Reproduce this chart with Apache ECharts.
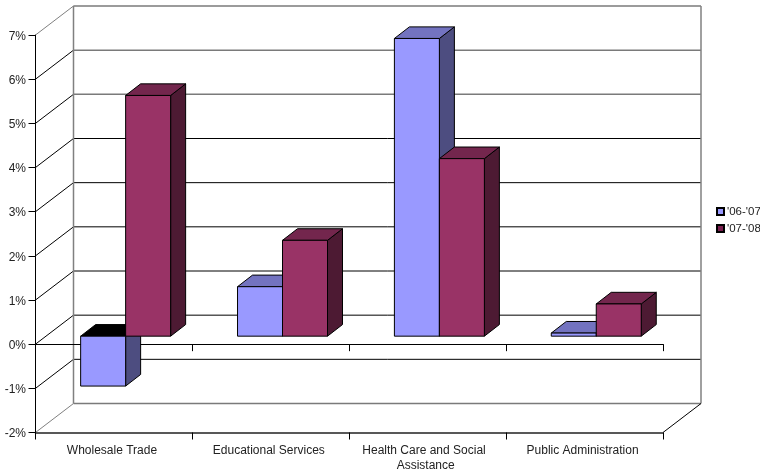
<!DOCTYPE html>
<html>
<head>
<meta charset="utf-8">
<style>html,body{margin:0;padding:0;background:#fff}#c{width:760px;height:469px}</style>
<script src="https://cdn.jsdelivr.net/npm/echarts@6/dist/echarts.min.js"></script>
</head>
<body>
<div id="c"></div>
<script>
var categories = ['Wholesale Trade', 'Educational Services', 'Health Care and Social Assistance', 'Public Administration'];
var seriesNames = ["'06-'07", "'07-'08"];
var values0607 = [-1.13, 1.12, 6.74, 0.07];
var values0708 = [5.45, 2.17, 4.02, 0.73];
var yTicks = [-2, -1, 0, 1, 2, 3, 4, 5, 6, 7];

var WALL_DX = 38, WALL_DY = -29;
var BAR_DX0 = 11.7, BAR_DY0 = -8;
var BAR_DX = 15, BAR_DY = -11.6;
var BAR_WIDTH_RATIO = 45 / 156.9;

function barRenderer(slot, front, side, top) {
  return function (params, api) {
    var i = api.value(0), v = api.value(1);
    var band = api.size([1, 0])[0];
    var w = band * BAR_WIDTH_RATIO;
    var c0 = api.coord([i, 0]), c1 = api.coord([i, v]);
    var x0 = c0[0] + BAR_DX0 + (slot - 1) * w, x1 = x0 + w;
    var yBase = c0[1] + BAR_DY0, yVal = c1[1] + BAR_DY0;
    var yT = Math.min(yBase, yVal), yB = Math.max(yBase, yVal);
    var stroke = { stroke: '#000', lineWidth: 1, lineJoin: 'miter' };
    function poly(pts, fill) {
      return { type: 'polygon', shape: { points: pts }, style: Object.assign({ fill: fill }, stroke) };
    }
    return {
      type: 'group',
      children: [
        poly([[x1, yT], [x1 + BAR_DX, yT + BAR_DY], [x1 + BAR_DX, yB + BAR_DY], [x1, yB]], side),
        poly([[x0, yT], [x0 + BAR_DX, yT + BAR_DY], [x1 + BAR_DX, yT + BAR_DY], [x1, yT]], v < 0 ? '#000' : top),
        poly([[x0, yT], [x1, yT], [x1, yB], [x0, yB]], front)
      ]
    };
  };
}

function wallRenderer(params, api) {
  var t = api.value(1);
  var band = api.size([1, 0])[0];
  var p = api.coord([0, t]);
  var left = p[0] - band / 2;
  var right = left + band * categories.length;
  var y = p[1];
  var edge = t === yTicks[0] || t === yTicks[yTicks.length - 1];
  var soft = edge || t >= 5;
  return {
    type: 'group',
    children: [
      { type: 'polyline', shape: { points: [[left, y], [left + WALL_DX, y + WALL_DY]] },
        style: { fill: null, stroke: edge ? '#808080' : '#000', lineWidth: 1 } },
      { type: 'polyline', shape: { points: [[left + WALL_DX, y + WALL_DY], [right + WALL_DX, y + WALL_DY]] },
        style: { fill: null, stroke: soft ? '#7a7a7a' : '#000', lineWidth: soft ? 1.5 : 1 } }
    ]
  };
}

function frameRenderer(params, api) {
  var band = api.size([1, 0])[0];
  var lo = api.coord([0, yTicks[0]]);
  var hi = api.coord([0, yTicks[yTicks.length - 1]]);
  var left = lo[0] - band / 2;
  var right = left + band * categories.length;
  function line(pts, color, width) {
    return { type: 'polyline', shape: { points: pts }, style: { fill: null, stroke: color, lineWidth: width } };
  }
  return {
    type: 'group',
    children: [
      line([[left + WALL_DX, hi[1] + WALL_DY], [left + WALL_DX, lo[1] + WALL_DY]], '#808080', 1.5),
      line([[right + WALL_DX, hi[1] + WALL_DY], [right + WALL_DX, lo[1] + WALL_DY]], '#808080', 1.5),
      line([[right, lo[1]], [right + WALL_DX, lo[1] + WALL_DY]], '#000', 1)
    ]
  };
}

var chart = echarts.init(document.getElementById('c'), null, { renderer: 'canvas' });
var labelFont = { fontFamily: 'Liberation Sans', fontSize: 12, color: '#222' };
chart.setOption({
  animation: false,
  backgroundColor: '#fff',
  grid: { left: 35.5, right: 97, top: 35, bottom: 36.5, containLabel: false, outerBoundsMode: 'none' },
  legend: {
    orient: 'vertical', left: 711, top: 200.5, itemWidth: 7, itemHeight: 7, itemGap: 5,
    icon: 'rect', selectedMode: false,
    textStyle: Object.assign({ padding: [0, 0, 0, -2] }, labelFont, { fontSize: 11.5 }),
    data: seriesNames
  },
  xAxis: [
    {
      type: 'category', data: categories, position: 'bottom', z: 1,
      axisLine: { onZero: false, lineStyle: { color: '#222', width: 1.5 } },
      axisTick: { show: true, interval: 0, length: 7, lineStyle: { color: '#000' } },
      axisLabel: Object.assign({ interval: 0, margin: 10.5, width: 145, overflow: 'break', lineHeight: 15, padding: [0, 4, 0, 0] }, labelFont)
    },
    {
      type: 'category', data: categories, position: 'bottom', z: 1,
      axisLine: { onZero: true, lineStyle: { color: '#000', width: 1 } },
      axisTick: { show: true, interval: 0, length: 7, lineStyle: { color: '#000' } },
      axisLabel: { show: false, interval: 0 }
    }
  ],
  yAxis: {
    type: 'value', min: -2, max: 7, interval: 1, z: 1,
    axisLine: { show: true, lineStyle: { color: '#000', width: 1 } },
    axisTick: { show: true, length: 7, lineStyle: { color: '#000' } },
    axisLabel: Object.assign({ margin: 9.5, verticalAlign: 'top', lineHeight: 3, formatter: '{value}%' }, labelFont),
    splitLine: { show: false }
  },
  series: [
    { type: 'custom', name: 'walls', z: 0, silent: true, renderItem: wallRenderer,
      encode: { x: 0, y: 1 }, data: yTicks.map(function (t) { return [0, t]; }) },
    { type: 'custom', name: 'frame', z: 0, silent: true, renderItem: frameRenderer,
      encode: { x: 0, y: 1 }, data: [[0, 0]] },
    { type: 'custom', name: seriesNames[0], z: 3, silent: true, itemStyle: { color: '#9999FF', borderColor: '#000', borderWidth: 1 },
      renderItem: barRenderer(0, '#9999FF', '#4D4D80', '#7373C0'),
      encode: { x: 0, y: 1 }, data: values0607.map(function (v, i) { return [i, v]; }) },
    { type: 'custom', name: seriesNames[1], z: 4, silent: true, itemStyle: { color: '#7A1F4F', borderColor: '#000', borderWidth: 1 },
      renderItem: barRenderer(1, '#993366', '#4D1A33', '#73264D'),
      encode: { x: 0, y: 1 }, data: values0708.map(function (v, i) { return [i, v]; }) }
  ]
});
</script>
</body>
</html>
